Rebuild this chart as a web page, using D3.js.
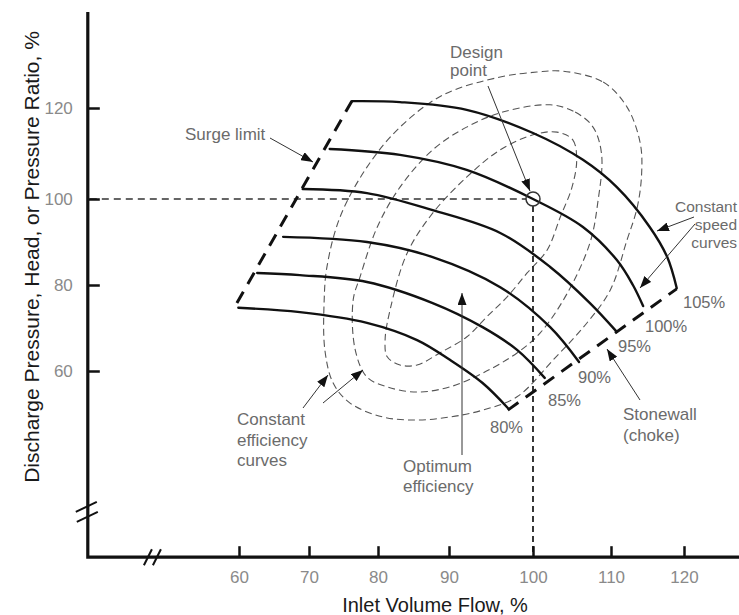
<!DOCTYPE html>
<html><head><meta charset="utf-8">
<script src="https://cdn.jsdelivr.net/npm/d3@7"></script>
<style>
body{margin:0;background:#fff}
svg{display:block}
text{font-family:"Liberation Sans",Arial,Helvetica,sans-serif}
</style>
</head><body>
<svg id="c" width="739" height="615"></svg>
<script>
// ---- data (percent of design) ----
const xTicks=[60,70,80,90,100,110,120];
const yTicks=[60,80,100,120];
const speedLabels=["80%","85%","90%","95%","100%","105%"];

const speed80Flow=[59.9,68.7,78.4,85.5,90.1,94.0,97.0];
const speed80Head=[74.7,73.7,71.2,67.2,62.6,57.2,51.4];
const speed85Flow=[62.6,68.7,78.4,87.7,94.0,98.1,101.5];
const speed85Head=[82.8,82.3,80.7,75.8,70.2,64.9,58.4];
const speed90Flow=[66.3,78.4,87.7,96.1,102.2,105.9];
const speed90Head=[91.2,90.0,86.5,79.5,70.2,62.1];
const speed95Flow=[69.1,78.4,87.7,96.1,102.2,107.3,110.8];
const speed95Head=[102.2,101.3,97.4,92.1,84.2,75.8,69.1];
const speed100Flow=[73.0,83.1,92.1,100,106.4,110.8,113.0,114.4];
const speed100Head=[111.0,109.7,106.4,100,93.5,85.8,80.0,75.1];
const speed105Flow=[76.2,83.1,92.1,100,106.4,110.8,115.3,117.7,119.0];
const speed105Head=[121.5,121.3,119.6,114.5,108.6,102.6,93.5,86.5,79.3];

const surgeFlow=[59.7,76.2];
const surgeHead=[75.8,121.5];
const stonewallFlow=[97.0,119.0];
const stonewallHead=[50.9,79.1];

const effOuterFlow=[103.8,109.0,112.2,114.0,114.2,113.6,112.2,109.9,106.7,102.8,98.1,94.0,90.1,85.5,80.7,75.9,73.5,72.3,72.2,72.6,74.5,78.4,83.1,89.2,96.1,100.5];
const effOuterHead=[128.1,125.7,120.2,112.3,105.7,98.1,90.5,78.8,70.7,63.0,54.0,50.9,49.3,48.6,49.3,52.6,57.2,64.9,76.5,84.2,95.8,107.0,115.8,122.9,126.8,127.9];
const effMidFlow=[102.2,105.4,107.7,108.8,108.3,107.3,104.4,100.9,98.1,94.0,90.1,85.5,81.3,78.4,76.7,76.4,77.4,79.9,83.1,87.7,92.1,96.4];
const effMidHead=[120.7,119.1,115.8,109.7,99.1,89.8,78.1,68.8,64.2,59.5,56.3,55.1,56.3,58.6,64.9,76.5,81.9,93.5,102.6,110.8,115.8,119.1];
const effInnerFlow=[103.1,105.1,105.6,105.0,103.5,101.8,99.3,96.9,94.5,92.1,88.7,85.5,83.1,81.3,81.0,81.7,84.1,87.7,92.1,96.1,100.0];
const effInnerHead=[114.7,113.0,108.6,102.6,95.8,88.1,82.8,77.2,72.6,67.9,64.2,61.4,61.4,63.3,67.2,74.2,87.4,96.7,104.8,110.8,114.1];

const designFlow=100, designHead=100;

// ---- layout ----
const W=739,H=615;
const svg=d3.select("#c");
const x=d3.scaleLinear().domain(xTicks).range([239,309,378,449,533,611,684]);
const y=d3.scaleLinear().domain(yTicks).range([371,285,199,108]);
const X_AXIS_FROM=38.4, Y_AXIS_FROM=16.7, Y_AXIS_TO=141.1;
const X_BREAK=47.7, Y_BREAK=27.7;

const defs=svg.append("defs");
defs.append("marker").attr("id","ah").attr("markerUnits","userSpaceOnUse")
  .attr("markerWidth",13).attr("markerHeight",9).attr("refX",12).attr("refY",4.5)
  .attr("orient","auto").append("path").attr("d","M0,0 L12,4.5 L0,9 Z").attr("fill","#111");

// efficiency loops
const loop=d3.line().x(d=>x(d[0])).y(d=>y(d[1])).curve(d3.curveCatmullRomClosed.alpha(0.5));
[[effOuterFlow,effOuterHead],[effMidFlow,effMidHead],[effInnerFlow,effInnerHead]].forEach(([f,h])=>{
  svg.append("path").attr("d",loop(d3.zip(f,h))).attr("fill","none")
    .attr("stroke","#555").attr("stroke-width",1.1).attr("stroke-dasharray","7,4");
});

// reference lines to design point
svg.append("line").attr("x1",x(X_AXIS_FROM)+2).attr("x2",x(designFlow)-7)
  .attr("y1",y(designHead)).attr("y2",y(designHead))
  .attr("stroke","#333").attr("stroke-width",1.4).attr("stroke-dasharray","7,5");
svg.append("line").attr("x1",x(designFlow)).attr("x2",x(designFlow))
  .attr("y1",y(designHead)+7).attr("y2",y(Y_AXIS_FROM))
  .attr("stroke","#222").attr("stroke-width",1.8).attr("stroke-dasharray","6,4");

// constant speed curves
const cl=d3.line().x(d=>x(d[0])).y(d=>y(d[1])).curve(d3.curveCatmullRom.alpha(0.5));
const speeds=[[speed80Flow,speed80Head],[speed85Flow,speed85Head],[speed90Flow,speed90Head],
  [speed95Flow,speed95Head],[speed100Flow,speed100Head],[speed105Flow,speed105Head]];
speeds.forEach(([f,h])=>{
  svg.append("path").attr("d",cl(d3.zip(f,h))).attr("fill","none")
    .attr("stroke","#111").attr("stroke-width",2.4).attr("stroke-linecap","round");
});

// surge & stonewall
const ll=d3.line().x(d=>x(d[0])).y(d=>y(d[1]));
[[surgeFlow,surgeHead],[stonewallFlow,stonewallHead]].forEach(([f,h])=>{
  svg.append("path").attr("d",ll(d3.zip(f,h))).attr("fill","none")
    .attr("stroke","#111").attr("stroke-width",3).attr("stroke-dasharray","13,9");
});

// design point
svg.append("circle").attr("cx",x(designFlow)).attr("cy",y(designHead)).attr("r",7)
  .attr("fill","none").attr("stroke","#333").attr("stroke-width",1.5);

// axes
const gx=svg.append("g").attr("transform",`translate(0,${y(Y_AXIS_FROM)})`)
  .call(d3.axisBottom(x).tickValues(xTicks).tickSize(-11).tickSizeOuter(0).tickPadding(14));
gx.select(".domain").remove();
gx.selectAll(".tick line").attr("stroke","#111").attr("stroke-width",2.5);
gx.selectAll(".tick text").attr("fill","#8a8a8a").attr("font-size",17)
  .attr("font-family","'Liberation Sans',Arial,sans-serif");

const gy=svg.append("g").attr("transform",`translate(${x(X_AXIS_FROM)},0)`)
  .call(d3.axisLeft(y).tickValues(yTicks).tickSize(-12).tickSizeOuter(0).tickPadding(15));
gy.select(".domain").remove();
gy.selectAll(".tick line").attr("stroke","#111").attr("stroke-width",2.5);
gy.selectAll(".tick text").attr("fill","#8a8a8a").attr("font-size",17)
  .attr("font-family","'Liberation Sans',Arial,sans-serif");

svg.append("path")
  .attr("d",`M${x(X_AXIS_FROM)},${y(Y_AXIS_TO)}V${y(Y_AXIS_FROM)}H${W}`)
  .attr("fill","none").attr("stroke","#111").attr("stroke-width",3.2);

// axis breaks
const xb=x(X_BREAK), yb=y(Y_BREAK), ax=x(X_AXIS_FROM), ay=y(Y_AXIS_FROM);
[[xb-9,ay+8,xb-1,ay-8],[xb,ay+8,xb+8,ay-8],
 [ax-12,yb+2,ax+9,yb-8],[ax-11,yb+12,ax+10,yb+2]].forEach(s=>{
  svg.append("line").attr("x1",s[0]).attr("y1",s[1]).attr("x2",s[2]).attr("y2",s[3])
    .attr("stroke","#111").attr("stroke-width",2);
});

// axis titles
svg.append("text").attr("x",435).attr("y",612).attr("text-anchor","middle")
  .attr("font-size",20).attr("fill","#1a1a1a").text("Inlet Volume Flow, %");
svg.append("text").attr("transform","translate(39,257) rotate(-90)").attr("text-anchor","middle")
  .attr("font-size",21).attr("fill","#1a1a1a").text("Discharge Pressure, Head, or Pressure Ratio, %");

// speed labels
const speedLabelPos=[[490,433],[548,406],[578,383],[618,352],[645,332],[683,308]];
speedLabels.forEach((t,i)=>{
  svg.append("text").attr("x",speedLabelPos[i][0]).attr("y",speedLabelPos[i][1])
    .attr("font-size",16.5).attr("fill","#6b6b6b").text(t);
});

// annotations
const notes=[
  ["Design",450,58,17,"start"],["point",450,76,17,"start"],
  ["Surge limit",185,140,17,"start"],
  ["Constant",737,212,15.5,"end"],["speed",737,230,15.5,"end"],["curves",737,248,15.5,"end"],
  ["Stonewall",623,420,17,"start"],["(choke)",623,441,17,"start"],
  ["Optimum",403,472,17,"start"],["efficiency",403,492,17,"start"],
  ["Constant",237,425,17,"start"],["efficiency",237,446,17,"start"],["curves",237,466,17,"start"]
];
notes.forEach(([t,px,py,fs,anc])=>{
  svg.append("text").attr("x",px).attr("y",py).attr("font-size",fs)
    .attr("text-anchor",anc).attr("fill","#6b6b6b").text(t);
});

const arrows=[[488,86,530,191],[270,138,313,162],[694,217,657,231],[695,224,640,288],
  [640,400,607,349],[462,455,462,293],[303,408,328,375],[323,403,363,370]];
arrows.forEach(a=>{
  svg.append("line").attr("x1",a[0]).attr("y1",a[1]).attr("x2",a[2]).attr("y2",a[3])
    .attr("stroke","#333").attr("stroke-width",1).attr("marker-end","url(#ah)");
});
</script>
</body></html>
